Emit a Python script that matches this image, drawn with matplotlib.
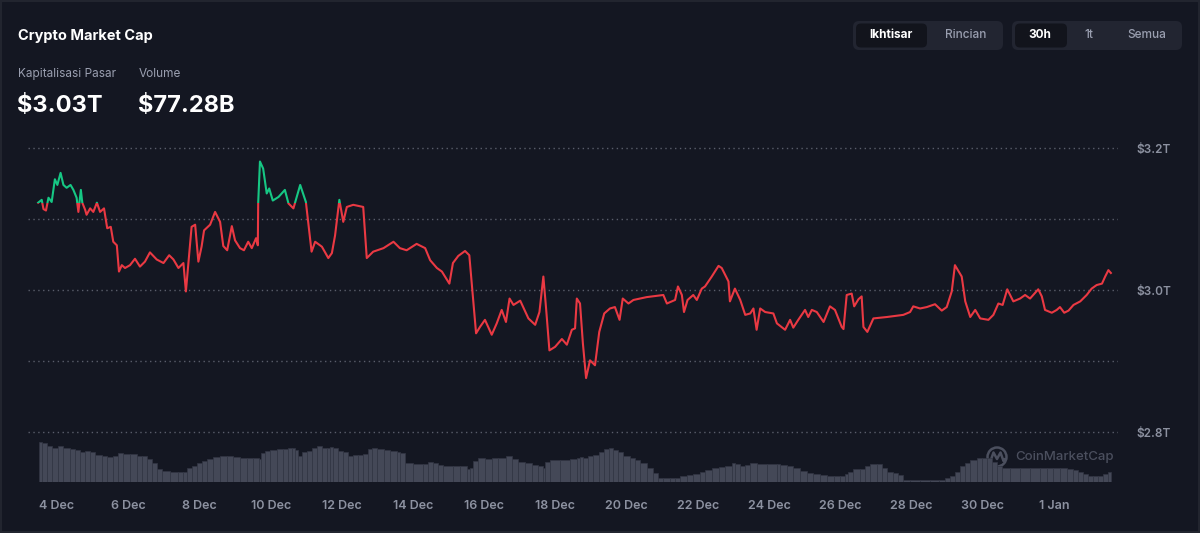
import numpy as np
import matplotlib.pyplot as plt
from matplotlib.patches import FancyBboxPatch, Rectangle, Circle

plt.rcParams['font.family'] = ['Inter', 'DejaVu Sans']

# price line: days after 4 Dec, total market cap in trillions
price_day = [-0.53, -0.43, -0.38, -0.31, -0.24, -0.15, -0.06, 0.01, 0.10, 0.18,
             0.27, 0.38, 0.46, 0.55, 0.60, 0.67, 0.71, 0.79, 0.83, 0.93,
             1.02, 1.12, 1.21, 1.32, 1.41, 1.51, 1.58, 1.68, 1.74, 1.82,
             1.91, 2.05, 2.19, 2.33, 2.47, 2.61, 2.80, 2.99, 3.15, 3.27,
             3.41, 3.55, 3.62, 3.69, 3.78, 3.88, 3.97, 4.06, 4.13, 4.30,
             4.44, 4.58, 4.67, 4.78, 4.91, 5.00, 5.14, 5.25, 5.37, 5.47,
             5.59, 5.64, 5.65, 5.70, 5.79, 5.89, 5.96, 6.06, 6.22, 6.40,
             6.50, 6.64, 6.83, 6.99, 7.15, 7.25, 7.44, 7.62, 7.72, 7.81,
             7.93, 8.04, 8.14, 8.32, 8.60, 8.70, 8.88, 9.17, 9.45, 9.63,
             9.82, 10.10, 10.34, 10.48, 10.67, 10.81, 11.02, 11.12, 11.27, 11.46,
             11.58, 11.77, 11.88, 12.02, 12.21, 12.35, 12.49, 12.61, 12.71, 12.82,
             13.01, 13.24, 13.43, 13.55, 13.66, 13.74, 13.83, 13.99, 14.18, 14.32,
             14.46, 14.55, 14.60, 14.69, 14.77, 14.86, 14.97, 15.11, 15.23, 15.37,
             15.53, 15.67, 15.80, 15.89, 16.05, 16.19, 16.56, 17.03, 17.13, 17.36,
             17.44, 17.55, 17.61, 17.71, 17.87, 17.97, 18.11, 18.20, 18.39, 18.58,
             18.67, 18.86, 18.90, 19.04, 19.19, 19.33, 19.47, 19.56, 19.65, 19.75,
             19.89, 20.12, 20.22, 20.45, 20.59, 20.68, 20.82, 21.01, 21.10, 21.20,
             21.34, 21.53, 21.71, 21.85, 22.04, 22.09, 22.18, 22.32, 22.39, 22.51,
             22.60, 22.65, 22.76, 22.93, 23.31, 23.77, 23.96, 24.05, 24.24, 24.43,
             24.66, 24.85, 24.99, 25.13, 25.22, 25.41, 25.51, 25.65, 25.79, 25.93,
             26.16, 26.30, 26.44, 26.56, 26.69, 26.86, 27.05, 27.19, 27.33, 27.56,
             27.66, 27.75, 27.94, 28.08, 28.17, 28.29, 28.41, 28.55, 28.74, 28.92,
             29.06, 29.20, 29.35, 29.44, 29.53, 29.60]
price_cap = [3.123, 3.127, 3.114, 3.112, 3.130, 3.124, 3.156, 3.148, 3.165, 3.148,
             3.144, 3.148, 3.141, 3.130, 3.110, 3.141, 3.123, 3.113, 3.106, 3.115,
             3.110, 3.123, 3.110, 3.115, 3.087, 3.089, 3.068, 3.063, 3.026, 3.035,
             3.031, 3.035, 3.044, 3.033, 3.040, 3.053, 3.043, 3.038, 3.049, 3.043,
             3.031, 3.038, 2.998, 3.038, 3.089, 3.092, 3.040, 3.061, 3.084, 3.092,
             3.110, 3.096, 3.062, 3.056, 3.090, 3.070, 3.059, 3.056, 3.068, 3.059,
             3.073, 3.063, 3.122, 3.181, 3.171, 3.136, 3.143, 3.126, 3.131, 3.141,
             3.122, 3.115, 3.148, 3.124, 3.054, 3.068, 3.061, 3.045, 3.052, 3.077,
             3.127, 3.096, 3.117, 3.120, 3.117, 3.045, 3.054, 3.059, 3.068, 3.059,
             3.056, 3.065, 3.059, 3.042, 3.031, 3.026, 3.009, 3.038, 3.048, 3.055,
             3.049, 2.939, 2.948, 2.958, 2.937, 2.953, 2.972, 2.955, 2.988, 2.979,
             2.985, 2.960, 2.951, 2.969, 3.019, 2.972, 2.915, 2.920, 2.931, 2.923,
             2.944, 2.946, 2.988, 2.981, 2.925, 2.876, 2.901, 2.894, 2.941, 2.967,
             2.974, 2.976, 2.958, 2.988, 2.981, 2.986, 2.990, 2.993, 2.981, 2.986,
             3.005, 2.993, 2.969, 2.986, 2.993, 2.986, 3.002, 3.005, 3.019, 3.034,
             3.031, 3.012, 2.984, 3.002, 2.986, 2.965, 2.967, 2.974, 2.944, 2.974,
             2.969, 2.967, 2.953, 2.944, 2.958, 2.947, 2.958, 2.972, 2.962, 2.972,
             2.969, 2.955, 2.977, 2.972, 2.948, 2.945, 2.993, 2.995, 2.977, 2.987,
             2.991, 2.948, 2.941, 2.960, 2.962, 2.965, 2.969, 2.977, 2.974, 2.976,
             2.980, 2.971, 2.976, 2.998, 3.035, 3.019, 2.984, 2.962, 2.972, 2.960,
             2.958, 2.965, 2.981, 2.979, 3.001, 2.984, 2.988, 2.993, 2.988, 3.001,
             2.991, 2.972, 2.968, 2.972, 2.976, 2.968, 2.971, 2.979, 2.984, 2.993,
             3.002, 3.007, 3.009, 3.019, 3.028, 3.024]

# 24h volume, billions
vol_day = [-0.52, -0.43, -0.29, -0.15, 0.04, 0.18, 0.37, 0.51, 0.65, 0.79,
           0.93, 1.07, 1.25, 1.40, 1.58, 1.72, 1.86, 2.05, 2.24, 2.38,
           2.52, 2.66, 2.80, 2.94, 3.17, 3.41, 3.55, 3.64, 3.78, 3.92,
           4.06, 4.20, 4.39, 4.58, 4.77, 4.95, 5.14, 5.33, 5.51, 5.66,
           5.72, 5.84, 5.98, 6.17, 6.36, 6.50, 6.59, 6.69, 6.78, 6.87,
           7.01, 7.15, 7.30, 7.43, 7.58, 7.67, 7.76, 7.90, 8.04, 8.18,
           8.32, 8.46, 8.60, 8.74, 8.84, 8.98, 9.17, 9.35, 9.54, 9.63,
           9.78, 10.01, 10.29, 10.43, 10.57, 10.71, 10.85, 11.13, 11.32, 11.51,
           11.60, 11.69, 11.83, 12.02, 12.21, 12.40, 12.61, 12.77, 12.96, 13.15,
           13.33, 13.52, 13.64, 13.71, 13.85, 14.13, 14.41, 14.60, 14.69, 14.78,
           14.92, 15.06, 15.21, 15.35, 15.49, 15.63, 15.77, 15.91, 16.10, 16.24,
           16.38, 16.56, 16.75, 16.89, 17.03, 17.22, 17.36, 17.50, 17.69, 17.87,
           18.06, 18.20, 18.39, 18.58, 18.76, 18.95, 19.04, 19.19, 19.33, 19.47,
           19.65, 19.94, 20.22, 20.31, 20.50, 20.68, 20.87, 21.06, 21.24, 21.43,
           21.62, 21.81, 21.99, 22.13, 22.23, 22.37, 22.56, 22.70, 22.84, 23.03,
           23.17, 23.31, 23.49, 23.63, 23.77, 23.96, 24.24, 24.52, 24.76, 24.94,
           25.08, 25.22, 25.37, 25.51, 25.65, 25.83, 25.97, 26.11, 26.25, 26.40,
           26.54, 26.77, 27.05, 27.33, 27.61, 27.80, 27.98, 28.17, 28.36, 28.55,
           28.69, 28.83, 28.97, 29.11, 29.25, 29.39, 29.53]
vol_bn = [300, 288, 263, 255, 268, 255, 245, 238, 225, 230,
          220, 200, 188, 183, 188, 213, 210, 205, 195, 188,
          170, 138, 95, 80, 75, 70, 75, 100, 120, 138,
          155, 170, 185, 193, 188, 185, 180, 180, 175, 170,
          213, 230, 238, 243, 243, 250, 255, 238, 195, 225,
          230, 255, 263, 255, 250, 260, 255, 230, 225, 195,
          200, 200, 208, 245, 255, 245, 235, 230, 225, 213,
          138, 130, 130, 143, 138, 125, 120, 120, 113, 93,
          100, 155, 175, 170, 175, 180, 188, 168, 150, 138,
          125, 120, 105, 150, 160, 165, 168, 175, 185, 180,
          193, 200, 225, 243, 250, 240, 218, 195, 180, 160,
          138, 105, 63, 30, 25, 25, 25, 38, 50, 55,
          70, 83, 100, 108, 120, 138, 133, 120, 125, 138,
          130, 130, 130, 125, 113, 100, 80, 63, 55, 50,
          43, 38, 38, 55, 75, 93, 95, 120, 130, 130,
          105, 70, 63, 50, 13, 8, 8, 8, 13, 25,
          38, 75, 113, 138, 163, 175, 180, 175, 145, 120,
          105, 105, 105, 100, 100, 105, 105, 100, 95, 88,
          75, 55, 38, 38, 45, 55, 68]

tick_days = list(range(0, 30, 2))
tick_labels = ['4 Dec', '6 Dec', '8 Dec', '10 Dec', '12 Dec', '14 Dec', '16 Dec',
               '18 Dec', '20 Dec', '22 Dec', '24 Dec', '26 Dec', '28 Dec',
               '30 Dec', '1 Jan']
cap_ticks = [2.8, 2.9, 3.0, 3.1, 3.2]
cap_labels = [r'\$2.8T', '', r'\$3.0T', '', r'\$3.2T']

bg = '#141722'
grey = '#8c91a0'
up = '#16c784'
down = '#ea3943'

fig = plt.figure(figsize=(12, 5.33), dpi=100, facecolor=bg)

# header / decoration layer in pixel units
deco = fig.add_axes([0, 0, 1, 1])
deco.set_xlim(0, 1200)
deco.set_ylim(533, 0)
deco.axis('off')
deco.add_patch(Rectangle((1, 1), 1198, 531, fill=False, edgecolor='#22252f', lw=1.5))

deco.text(18, 36, 'Crypto Market Cap', color='white', fontsize=10.5,
          fontweight='bold', va='center', ha='left')
deco.text(18, 74, 'Kapitalisasi Pasar', color='#9a9fb0', fontsize=8.5, va='center')
deco.text(139, 74, 'Volume', color='#9a9fb0', fontsize=8.5, va='center')
deco.text(17, 106, r'\$3.03T', color='white', fontsize=17, fontweight='bold', va='center')
deco.text(138, 106, r'\$77.28B', color='white', fontsize=17, fontweight='bold', va='center')

# toggle buttons
for x0, x1 in [(853, 1003), (1012, 1182)]:
    deco.add_patch(FancyBboxPatch((x0, 21), x1 - x0, 29,
                                  boxstyle='round,pad=0,rounding_size=6',
                                  facecolor='#222531', edgecolor='none'))
for x0, x1 in [(856, 927), (1015, 1067)]:
    deco.add_patch(FancyBboxPatch((x0, 23.5), x1 - x0, 24,
                                  boxstyle='round,pad=0,rounding_size=5',
                                  facecolor='#12141c', edgecolor='none'))
deco.text(891, 35.5, 'Ikhtisar', color='white', fontsize=8.5, fontweight='bold',
          ha='center', va='center')
deco.text(966, 35.5, 'Rincian', color='#9a9fb0', fontsize=8.5, fontweight='medium',
          ha='center', va='center')
deco.text(1040, 35.5, '30h', color='white', fontsize=8.5, fontweight='bold',
          ha='center', va='center')
deco.text(1089, 35.5, '1t', color='#9a9fb0', fontsize=8.5, fontweight='medium',
          ha='center', va='center')
deco.text(1147, 35.5, 'Semua', color='#9a9fb0', fontsize=8.5, fontweight='medium',
          ha='center', va='center')

# watermark
deco.add_patch(Circle((997, 457), 9.5, fill=False, edgecolor='#4b4f5e', lw=1.8))
deco.plot([990.5, 993.5, 997, 1000.5, 1003.5, 1005], [461, 452.5, 459, 452.5, 461, 459],
          color='#4b4f5e', lw=1.8, solid_capstyle='round', solid_joinstyle='round')
deco.text(1015, 457, 'CoinMarketCap', color='#4b4f5e', fontsize=9.5,
          fontweight='medium', va='center', ha='left')

xlim = (-0.815, 29.80)

# volume bars
axv = fig.add_axes([28 / 1200, 1 - 481.5 / 533, 1090 / 1200, 0.1])
axv.set_facecolor('none')
widths = list(np.diff(vol_day)) + [0.07]
axv.bar(vol_day, vol_bn, width=widths, align='edge', color='#444857',
        edgecolor='#323644', linewidth=0.5)
axv.set_xlim(*xlim)
axv.set_ylim(0, 400)
axv.axis('off')

# price line
ax = fig.add_axes([28 / 1200, 1 - 482 / 533, 1090 / 1200, 342 / 533])
ax.set_facecolor('none')
ax.set_xlim(*xlim)
ax.set_ylim(2.7296, 3.2113)
for s in ax.spines.values():
    s.set_visible(False)

base = price_cap[0]
red_line, = ax.plot(price_day, price_cap, color=down, lw=1.5, zorder=3)
green_line, = ax.plot(price_day, price_cap, color=up, lw=1.5, zorder=3)
green_line.set_clip_path(Rectangle((xlim[0], base), xlim[1] - xlim[0], 1,
                                   transform=ax.transData))
red_line.set_clip_path(Rectangle((xlim[0], base - 1), xlim[1] - xlim[0], 1,
                                 transform=ax.transData))

ax.set_yticks(cap_ticks)
ax.set_yticklabels(cap_labels)
ax.yaxis.tick_right()
ax.grid(axis='y', color='#5a5e6b', linestyle=(0, (1, 2.5)), linewidth=1)
ax.tick_params(axis='y', length=0, pad=13, labelsize=8.5, labelcolor=grey)
for t in ax.get_yticklabels():
    t.set_fontweight('semibold')

ax.set_xticks(tick_days)
ax.set_xticklabels(tick_labels)
ax.tick_params(axis='x', length=0, pad=13, labelsize=9, labelcolor=grey)
for t in ax.get_xticklabels():
    t.set_fontweight('semibold')

fig.savefig('out.png', dpi=100, facecolor=bg)
